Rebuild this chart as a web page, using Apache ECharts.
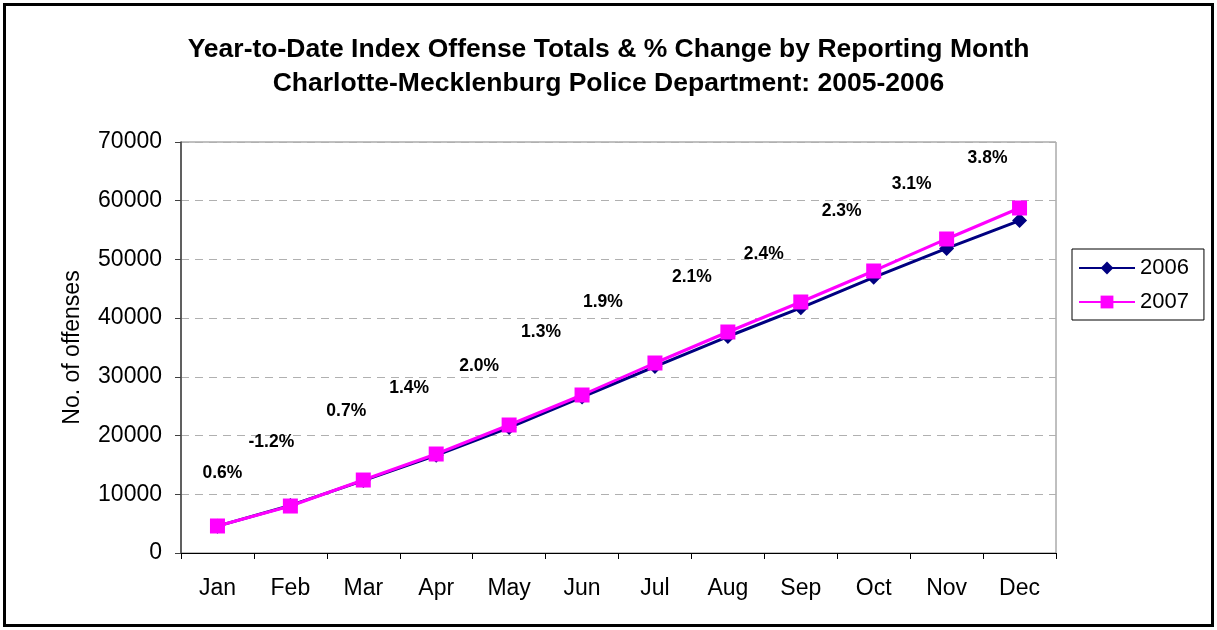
<!DOCTYPE html>
<html>
<head>
<meta charset="utf-8">
<script src="https://cdn.jsdelivr.net/npm/echarts@6/dist/echarts.min.js"></script>
<style>
  html, body { margin: 0; padding: 0; background: #fff; }
  #chart { width: 1217px; height: 630px; }
</style>
</head>
<body>
<div id="chart"></div>
<script>
// values
var months = ["Jan", "Feb", "Mar", "Apr", "May", "Jun", "Jul", "Aug", "Sep", "Oct", "Nov", "Dec"];
var ytd2006 = [4570, 8100, 12340, 16630, 21370, 26570, 31760, 36870, 41750, 46950, 51870, 56610];
var ytd2007 = [4600, 8000, 12430, 16860, 21800, 26910, 32360, 37640, 42750, 48030, 53480, 58760];
var pctChange = ["0.6%", "-1.2%", "0.7%", "1.4%", "2.0%", "1.3%", "1.9%", "2.1%", "2.4%", "2.3%", "3.1%", "3.8%"];
var yTicks = [0, 10000, 20000, 30000, 40000, 50000, 60000, 70000];

// where each % label sits relative to its 2007 point (px)
var labelNudge = [[5, -53], [-19, -64], [-17, -69], [-27, -66], [-30, -59], [-41, -63],
                  [-52, -61], [-36, -55], [-37, -48], [-32, -60], [-35, -55], [-32, -50]];

var font = "'Liberation Sans', Arial, sans-serif";

var dom = document.getElementById("chart");
var myChart = echarts.init(dom, null, { renderer: "canvas" });

var option = {
  animation: false,
  backgroundColor: "#fff",
  textStyle: { fontFamily: font },
  title: {
    text: "Year-to-Date Index Offense Totals & % Change by Reporting Month\nCharlotte-Mecklenburg Police Department: 2005-2006",
    left: "center",
    top: 28,
    textStyle: {
      fontSize: 26.5,
      fontWeight: "bold",
      color: "#000",
      lineHeight: 34,
      fontFamily: font
    }
  },
  graphic: [
    {
      type: "rect",
      shape: { x: 4.5, y: 4.5, width: 1208, height: 621 },
      style: { fill: null, stroke: "#000", lineWidth: 3 },
      silent: true
    }
  ],
  legend: {
    orient: "vertical",
    left: 1072,
    top: 249,
    padding: [8, 15, 7, 6],
    itemWidth: 56,
    itemHeight: 16,
    itemGap: 12,
    borderColor: "#000",
    borderWidth: 1,
    textStyle: { fontSize: 22, color: "#000", fontFamily: font },
    data: ["2006", "2007"]
  },
  grid: {
    left: 181,
    right: 161,
    top: 142,
    bottom: 77,
    show: true,
    borderColor: "#808080",
    borderWidth: 1,
    containLabel: false
  },
  xAxis: {
    type: "category",
    data: months,
    boundaryGap: true,
    axisLine: { lineStyle: { color: "#000", width: 1 } },
    axisTick: { show: true, length: 6, alignWithLabel: false, lineStyle: { color: "#000" } },
    axisLabel: { interval: 0, margin: 24, fontSize: 23, color: "#000", fontFamily: font },
    splitLine: { show: false }
  },
  yAxis: {
    type: "value",
    min: yTicks[0],
    max: yTicks[yTicks.length - 1],
    interval: 10000,
    name: "No. of offenses",
    nameLocation: "middle",
    nameRotate: 90,
    nameGap: 97,
    nameTextStyle: { fontSize: 23, color: "#000", fontFamily: font },
    axisLine: { show: true, lineStyle: { color: "#404040", width: 1.5 } },
    axisTick: { show: true, length: 6, lineStyle: { color: "#404040" } },
    axisLabel: {
      margin: 19, fontSize: 23, color: "#000", fontFamily: font,
      formatter: function (v) { return String(v); }
    },
    splitLine: { show: true, lineStyle: { color: "#b0b0b0", type: [8, 6], width: 1 } }
  },
  series: [
    {
      name: "2006",
      type: "line",
      data: ytd2006,
      symbol: "diamond",
      symbolSize: 15,
      lineStyle: { color: "#000080", width: 3 },
      itemStyle: { color: "#000080" },
      z: 2
    },
    {
      name: "2007",
      type: "line",
      data: ytd2007,
      symbol: "rect",
      symbolSize: 15,
      lineStyle: { color: "#FF00FF", width: 3 },
      itemStyle: { color: "#FF00FF" },
      label: {
        show: true,
        position: "inside",
        formatter: function (p) { return pctChange[p.dataIndex]; },
        color: "#000",
        fontWeight: "bold",
        fontSize: 17.5,
        fontFamily: font
      },
      labelLayout: function (p) {
        var n = labelNudge[p.dataIndex];
        return { dx: n[0], dy: n[1], hideOverlap: false };
      },
      z: 3
    }
  ]
};

if (option && typeof option === "object") {
  myChart.setOption(option);
}

window.addEventListener("resize", myChart.resize);
</script>
</body>
</html>
